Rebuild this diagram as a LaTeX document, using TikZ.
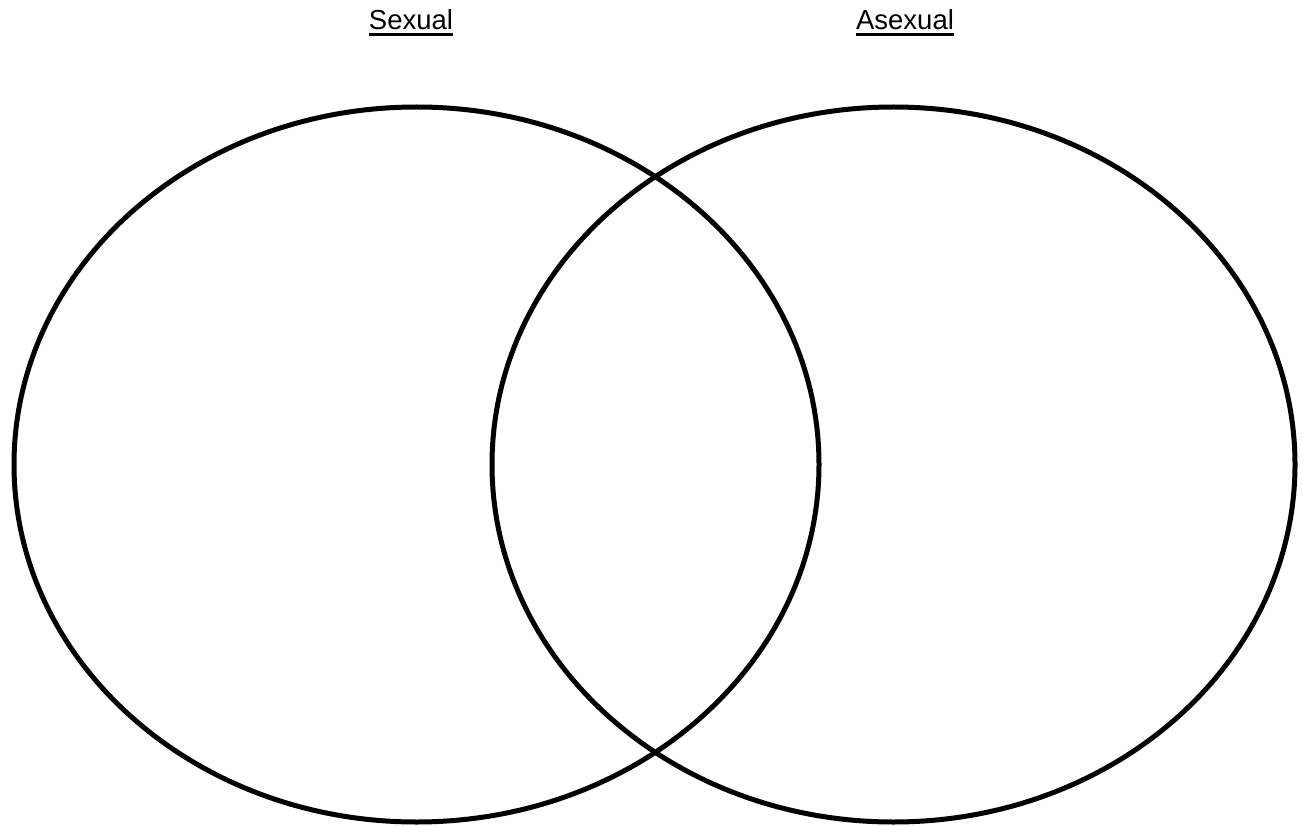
\documentclass[tikz,border=0pt]{standalone}
\usepackage{fontspec}
\setmainfont{Liberation Sans}
\begin{document}
\begin{tikzpicture}[x=1pt,y=-1pt,
  ring/.style={draw=black,line width=5pt},
  lbl/.style={inner sep=0pt,anchor=base,font=\fontsize{27.5}{32}\selectfont,text depth=0pt},
  uline/.style={line width=3pt}]
\useasboundingbox[fill=white] (0,0) rectangle (1303,826);
\draw[ring] (416.5,464.5) ellipse [x radius=402.5, y radius=357.5];
\draw[ring] (893.5,464.5) ellipse [x radius=401.5, y radius=357.5];
\node[lbl] (sex) at (411,30) {Sexual};
\node[lbl] (asex) at (905,30) {Asexual};
\draw[uline] ([yshift=-5pt]sex.base west) -- ([yshift=-5pt]sex.base east);
\draw[uline] ([yshift=-5pt]asex.base west) -- ([yshift=-5pt]asex.base east);
\end{tikzpicture}
\end{document}
